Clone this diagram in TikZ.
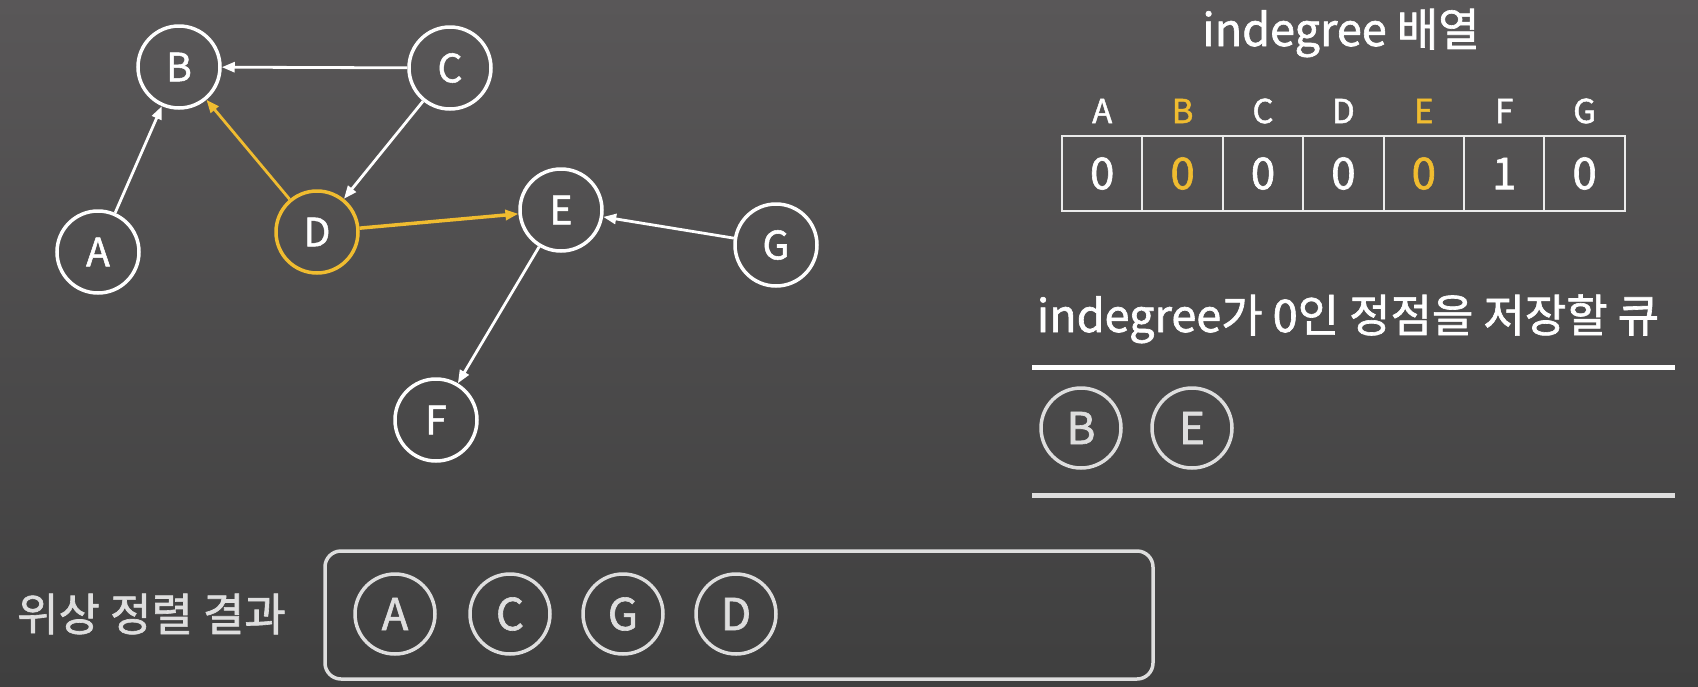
\documentclass[tikz,border=0pt]{standalone}
\usepackage{fontspec}
\setmainfont{Noto Sans CJK KR}[FakeBold=1.4]
\usetikzlibrary{arrows.meta}
\definecolor{bgtop}{RGB}{89,87,88}
\definecolor{bgbot}{RGB}{63,63,63}
\definecolor{hl}{RGB}{240,188,48}
\definecolor{lg}{RGB}{222,222,222}
\definecolor{tl}{RGB}{235,235,235}
\tikzset{
  gnode/.style={circle,draw=white,line width=3.5pt,minimum size=82pt,inner sep=0pt,text=white,font=\fontsize{39}{41}\selectfont},
  hnode/.style={gnode,draw=hl},
  qnode/.style={circle,draw=lg,line width=3.5pt,minimum size=80pt,inner sep=0pt,text=lg,font=\fontsize{44}{46}\selectfont},
  edge/.style={draw=white,line width=2.8pt,-{Triangle[length=13pt,width=10pt]}},
  hedge/.style={edge,draw=hl,fill=hl},
  cell/.style={rectangle,draw=tl,line width=2pt,minimum width=80.4pt,minimum height=75pt,inner sep=0pt,text=white,font=\fontsize{44}{46}\selectfont},
  colhead/.style={text=white,inner sep=0pt,font=\fontsize{33}{35}\selectfont},
  title/.style={text=white,inner sep=0pt,font=\fontsize{45}{47}\selectfont}
}
\begin{document}
\begin{tikzpicture}[x=1pt,y=-1pt]
\shade[top color=bgtop,bottom color=bgbot] (0,0) rectangle (1698,686);
\useasboundingbox (0,0) rectangle (1698,686);
% graph
\node[gnode] (B) at (179,67) {B};
\node[gnode] (C) at (450,68) {C};
\node[gnode] (A) at (98,252) {A};
\node[hnode] (D) at (317,232) {D};
\node[gnode] (E) at (561,210) {E};
\node[gnode] (G) at (776,245) {G};
\node[gnode] (F) at (436,420) {F};
\draw[edge] (A) -- (B);
\draw[edge] (C) -- (B);
\draw[edge] (C) -- (D);
\draw[hedge] (D) -- (B);
\draw[hedge,line width=3.5pt] (D) -- (E);
\draw[edge] (G) -- (E);
\draw[edge] (E) -- (F);
% indegree array
\node[title,anchor=base] (t1) at (1341,46) {indegree 배열};
\foreach \l/\v/\c [count=\i from 0] in {A/0/white,B/0/hl,C/0/white,D/0/white,E/0/hl,F/1/white,G/0/white}{
  \node[cell,text=\c] (cell\l) at ({1102.2+80.4*\i},173.5) {\v};
  \node[colhead,text=\c] (h\l) at ({1102.2+80.4*\i},111) {\l};
}
% queue
\node[title,anchor=base] (t2) at (1348,332) {indegree가 0인 정점을 저장할 큐};
\coordinate (q1a) at (1032,367);
\coordinate (q1b) at (1675,367);
\coordinate (q2a) at (1032,495);
\coordinate (q2b) at (1675,495);
\draw[white,line width=5pt] (q1a) -- (q1b);
\draw[lg,line width=5pt] (q2a) -- (q2b);
\node[qnode] (qB) at (1081,428) {B};
\node[qnode] (qE) at (1192,428) {E};
% result
\node[anchor=west,inner sep=0pt,text=lg,font=\fontsize{45}{47}\selectfont] (res) at (17,614) {위상 정렬 결과};
\draw[lg,line width=3.5pt,rounded corners=16pt] (325,551) rectangle (1153,679);
\node[qnode] (rA) at (395,614) {A};
\node[qnode] (rC) at (510,614) {C};
\node[qnode] (rG) at (623,614) {G};
\node[qnode] (rD) at (736,614) {D};
\end{tikzpicture}
\end{document}
